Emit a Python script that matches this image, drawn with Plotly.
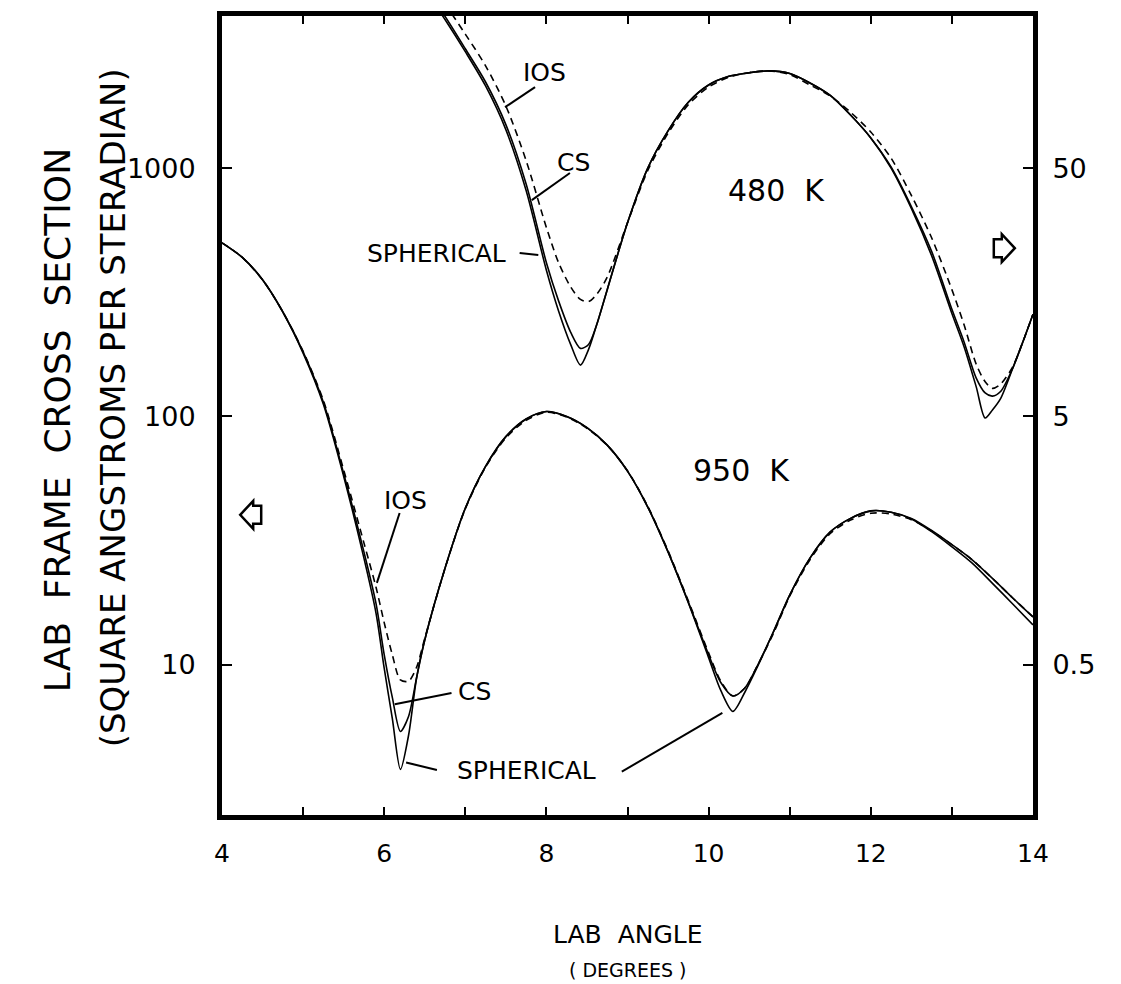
import math
import plotly.graph_objects as go

# ---------------------------------------------------------------------------
# 950 K differential cross sections (left axis, square angstroms per sr)
# ---------------------------------------------------------------------------
angle_950 = [4.0, 4.25, 4.5, 4.75, 5.0, 5.25, 5.5, 5.75, 5.9, 6.0,
             6.1, 6.2, 6.3, 6.4, 6.5, 6.75, 7.0, 7.25, 7.5, 7.75,
             8.0, 8.25, 8.5, 8.75, 9.0, 9.25, 9.5, 9.75, 10.0, 10.15,
             10.3, 10.45, 10.6, 10.8, 11.0, 11.25, 11.5, 11.75, 12.0, 12.25,
             12.5, 12.75, 13.0, 13.25, 13.5, 13.75, 14.0]

spherical_950 = [500, 437, 355, 263, 180, 112, 57.5, 26.9, 16.1, 9.7,
                 6.1, 3.8, 5.2, 8.9, 12.6, 24.5, 42.7, 63.0, 83.0, 97.7,
                 104.7, 100, 90.2, 76.7, 60.3, 43.2, 28.5, 17.8, 10.7, 7.9,
                 6.5, 7.8, 9.8, 13.6, 19.1, 26.9, 34.3, 38.9, 41.7, 41.2,
                 38.7, 34.4, 29.9, 25.7, 21.3, 17.6, 14.5]

cs_950 = [500, 437, 355, 264, 182, 114, 59.0, 28.5, 17.6, 11.0,
          7.4, 5.4, 6.2, 8.9, 12.6, 24.5, 42.7, 63.0, 83.0, 97.7,
          104.7, 100, 90.2, 76.7, 60.3, 43.2, 28.5, 17.9, 11.0, 8.5,
          7.5, 8.1, 9.9, 13.6, 19.1, 26.9, 34.3, 38.9, 41.7, 41.2,
          38.9, 34.8, 30.5, 26.5, 22.3, 18.6, 15.6]

ios_950 = [500, 437, 355, 264, 183, 116, 61.0, 31.0, 20.5, 14.8,
           11.0, 8.7, 8.6, 9.8, 12.8, 24.5, 42.5, 62.5, 82.0, 96.5,
           104, 99.5, 89.7, 76.5, 60.5, 43.5, 28.8, 18.1, 11.2, 8.6,
           7.5, 8.1, 9.9, 13.4, 18.9, 26.5, 33.8, 38.3, 40.8, 40.5,
           38.4, 34.6, 30.5, 26.5, 22.3, 18.6, 15.6]

# ---------------------------------------------------------------------------
# 480 K differential cross sections (right axis, square angstroms per sr)
# ---------------------------------------------------------------------------
angle_480 = [6.5, 6.75, 7.0, 7.25, 7.5, 7.75, 8.0, 8.15, 8.3, 8.42,
             8.52, 8.62, 8.75, 9.0, 9.25, 9.5, 9.75, 10.0, 10.25, 10.5,
             10.75, 11.0, 11.25, 11.5, 11.75, 12.0, 12.25, 12.5, 12.75, 13.0,
             13.15, 13.3, 13.41, 13.5, 13.6, 13.75, 13.9, 14.0]

spherical_480 = [262, 198, 147, 107, 71.4, 40.6, 19.4, 13.3, 9.73, 8.05,
                 9.31, 11.7, 16.2, 30.1, 50.0, 70.6, 92.0, 108, 117, 121,
                 123, 120, 110, 98.0, 81.7, 66.1, 50.0, 34.4, 22.2, 13.0,
                 9.55, 6.58, 4.93, 5.31, 5.90, 7.82, 10.5, 12.9]

cs_480 = [269, 204, 151, 111, 74.8, 43.1, 20.8, 14.6, 10.9, 9.40,
          9.75, 11.7, 16.2, 30.1, 50.0, 70.6, 92.0, 108, 117, 121,
          123, 120, 110, 98.0, 81.7, 66.1, 50.5, 35.0, 23.1, 13.5,
          9.98, 7.14, 6.22, 6.04, 6.30, 7.82, 10.5, 12.9]

ios_480 = [301, 229, 173, 129, 88.9, 53.6, 28.8, 20.8, 16.6, 14.8,
           14.5, 15.5, 18.2, 30.1, 48.9, 69.0, 90.0, 106, 116, 121,
           123, 119, 108, 97.5, 83.9, 69.8, 54.8, 38.8, 26.2, 16.2,
           11.7, 8.11, 6.90, 6.49, 6.75, 7.93, 10.5, 12.9]

# Axis ticks
left_tick_values = [10, 100, 1000]
left_tick_text = ["10", "100", "1000"]
right_tick_values = [0.5, 5, 50]
right_tick_text = ["0.5", "5", "50"]
angle_tick_values = list(range(4, 15))
angle_tick_text = [str(a) if a % 2 == 0 else "" for a in angle_tick_values]

# The right scale reads 1/20 of the left scale
RIGHT_SCALE = 20.0
X_RANGE = [4, 14]
LEFT_LOG_RANGE = [0.396, 3.612]
RIGHT_LOG_RANGE = [r - math.log10(RIGHT_SCALE) for r in LEFT_LOG_RANGE]

FONT = "DejaVu Sans"
INK = "black"


def paper_x(angle):
    return (angle - X_RANGE[0]) / (X_RANGE[1] - X_RANGE[0])


def paper_y(value):
    """Paper coordinate of a left-axis cross-section value."""
    lo, hi = LEFT_LOG_RANGE
    return (math.log10(value) - lo) / (hi - lo)


fig = go.Figure()

solid = dict(color=INK, width=1.6, shape="spline", smoothing=0.8)
dashed = dict(color=INK, width=1.6, dash="7px,5px", shape="spline",
              smoothing=0.8)

series = [
    (angle_950, spherical_950, solid, "y"),
    (angle_950, cs_950, solid, "y"),
    (angle_950, ios_950, dashed, "y"),
    (angle_480, spherical_480, solid, "y2"),
    (angle_480, cs_480, solid, "y2"),
    (angle_480, ios_480, dashed, "y2"),
]
for xs, ys, line, axis in series:
    fig.add_trace(go.Scatter(x=xs, y=ys, mode="lines", line=line,
                             yaxis=axis, showlegend=False, hoverinfo="skip"))

annotations = []
shapes = []


def label(text, angle, value, size=25):
    annotations.append(dict(
        text=text, x=paper_x(angle), y=paper_y(value), xref="paper",
        yref="paper", showarrow=False, xanchor="center", yanchor="middle",
        font=dict(family=FONT, size=size, color=INK)))


def leader(a0, v0, a1, v1):
    shapes.append(dict(
        type="line", xref="paper", yref="paper",
        x0=paper_x(a0), y0=paper_y(v0), x1=paper_x(a1), y1=paper_y(v1),
        line=dict(color=INK, width=2)))


def scale_arrow(angle, value, direction):
    """Open block arrow (pixel-sized) pointing at the scale in use."""
    d = direction
    pts = [(-11 * d, 0), (2 * d, 14), (2 * d, 9), (10 * d, 9),
           (10 * d, -9), (2 * d, -9), (2 * d, -14)]
    path = "M " + " L ".join(f"{x} {y}" for x, y in pts) + " Z"
    shapes.append(dict(
        type="path", path=path, xref="paper", yref="paper",
        xsizemode="pixel", ysizemode="pixel",
        xanchor=paper_x(angle), yanchor=paper_y(value),
        line=dict(color=INK, width=2.5), fillcolor="rgba(0,0,0,0)"))


# Arrows telling which scale each temperature uses
scale_arrow(4.36, 40.2, 1)
scale_arrow(13.64, 476, -1)

# Temperature labels
label("480  K", 10.84, 815, size=30)
label("950  K", 10.41, 60.4, size=30)

# 480 K model labels
label("IOS", 7.98, 2432)
leader(7.86, 2118, 7.49, 1758)
label("CS", 8.33, 1057)
leader(8.29, 955, 7.82, 743)
label("SPHERICAL", 6.65, 451)
leader(7.67, 455, 7.90, 447)

# 950 K model labels
label("IOS", 6.26, 46.1)
leader(6.19, 40.9, 5.91, 21.4)
label("CS", 7.11, 7.85)
leader(6.83, 7.71, 6.13, 6.95)
label("SPHERICAL", 7.75, 3.75)
leader(6.65, 3.78, 6.27, 4.05)
leader(8.93, 3.72, 10.17, 6.41)

# Axis titles
annotations += [
    dict(text="LAB  FRAME  CROSS  SECTION", x=-0.2035, y=0.494,
         xref="paper", yref="paper", textangle=-90, showarrow=False,
         xanchor="center", yanchor="middle",
         font=dict(family=FONT, size=36, color=INK)),
    dict(text="(SQUARE ANGSTROMS PER STERADIAN)", x=-0.1344, y=0.509,
         xref="paper", yref="paper", textangle=-90, showarrow=False,
         xanchor="center", yanchor="middle",
         font=dict(family=FONT, size=34, color=INK)),
    dict(text="LAB  ANGLE", x=0.5006, y=-0.150, xref="paper", yref="paper",
         showarrow=False, xanchor="center", yanchor="middle",
         font=dict(family=FONT, size=25, color=INK)),
    dict(text="( DEGREES )", x=0.5006, y=-0.194, xref="paper", yref="paper",
         showarrow=False, xanchor="center", yanchor="middle",
         font=dict(family=FONT, size=19, color=INK)),
]

frame = dict(showline=True, linewidth=5, linecolor=INK, showgrid=False,
             zeroline=False, ticks="inside", tickcolor=INK, tickwidth=1.5)

fig.update_layout(
    width=1121, height=984,
    margin=dict(l=222, r=88, t=16, b=169),
    paper_bgcolor="white", plot_bgcolor="white",
    showlegend=False,
    annotations=annotations,
    shapes=shapes,
    xaxis=dict(range=X_RANGE, tickmode="array", tickvals=angle_tick_values,
               ticktext=angle_tick_text, ticklen=8, mirror="ticks",
               ticklabelstandoff=12,
               tickfont=dict(family=FONT, size=25, color=INK), **frame),
    yaxis=dict(type="log", range=LEFT_LOG_RANGE, tickmode="array",
               tickvals=left_tick_values, ticktext=left_tick_text,
               ticklen=10, mirror=True, ticklabelstandoff=16,
               tickfont=dict(family=FONT, size=27, color=INK), **frame),
    yaxis2=dict(type="log", range=RIGHT_LOG_RANGE, overlaying="y",
                side="right", tickmode="array", tickvals=right_tick_values,
                ticktext=right_tick_text, ticklen=10, ticklabelstandoff=9,
                tickfont=dict(family=FONT, size=27, color=INK), **frame),
)

fig.write_html("out.html")
